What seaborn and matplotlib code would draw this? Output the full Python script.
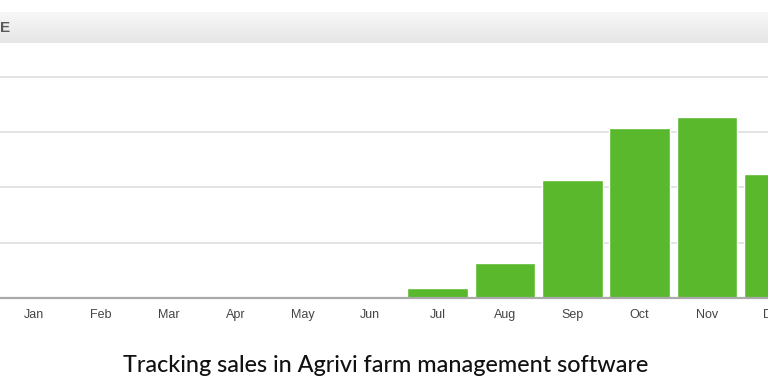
import numpy as np
import pandas as pd
import seaborn as sns
import matplotlib.pyplot as plt
from matplotlib.colors import LinearSegmentedColormap

# monthly sales (in grid units)
months = ["Jan", "Feb", "Mar", "Apr", "May", "Jun",
          "Jul", "Aug", "Sep", "Oct", "Nov", "Dec"]
sales = [0, 0, 0, 0, 0, 0, 0.18, 0.63, 2.13, 3.07, 3.27, 2.24]
grid_ticks = [1, 2, 3, 4]
caption = "Tracking sales in Agrivi farm management software"

df = pd.DataFrame({"month": months, "sales": sales})

sns.set_style("white")
fig = plt.figure(figsize=(7.68, 3.84), dpi=100)

# grey header strip from the widget, cut off at the left
hdr = fig.add_axes([0, 1 - 43 / 384, 1, 31 / 384])
grad = np.linspace(0, 1, 50).reshape(-1, 1)
hdr.imshow(grad, aspect="auto", extent=[0, 1, 0, 1],
           cmap=LinearSegmentedColormap.from_list("hdr", ["#f7f7f7", "#e6e6e6"]))
hdr.axis("off")
hdr.text(0.0, 0.5, "E", transform=hdr.transAxes, ha="left", va="center",
         fontsize=11, fontweight="bold", color="#5a5a5a", family="Liberation Sans")

# plot area runs past the right edge so Dec is cut
ax = fig.add_axes([0, 86 / 384, 808 / 768, 238 / 384])
sns.barplot(data=df, x="month", y="sales", color="#5ab82c", saturation=1,
            width=0.9, ax=ax)
ax.set_xlim(-0.5, 11.5)
ax.set_ylim(0, 4.3)
ax.set_yticks(grid_ticks)
ax.set_yticklabels([])
ax.tick_params(axis="y", length=0)
ax.tick_params(axis="x", length=0, pad=8)
for lab in ax.get_xticklabels():
    lab.set_fontfamily("Liberation Sans")
    lab.set_fontsize(9)
    lab.set_color("#444444")
ax.yaxis.grid(True, color="#e4e4e4", linewidth=1.4)
ax.set_axisbelow(True)
for s in ["top", "right", "left"]:
    ax.spines[s].set_visible(False)
ax.spines["bottom"].set_color("#aaaaaa")
ax.spines["bottom"].set_linewidth(1.6)
ax.set_xlabel("")
ax.set_ylabel("")

fig.text(386 / 768, 1 - 365 / 384, caption, ha="center", va="center",
         fontsize=16.8, color="#111111", family="Lato", fontweight="medium")

fig.savefig("out.png", dpi=100)
